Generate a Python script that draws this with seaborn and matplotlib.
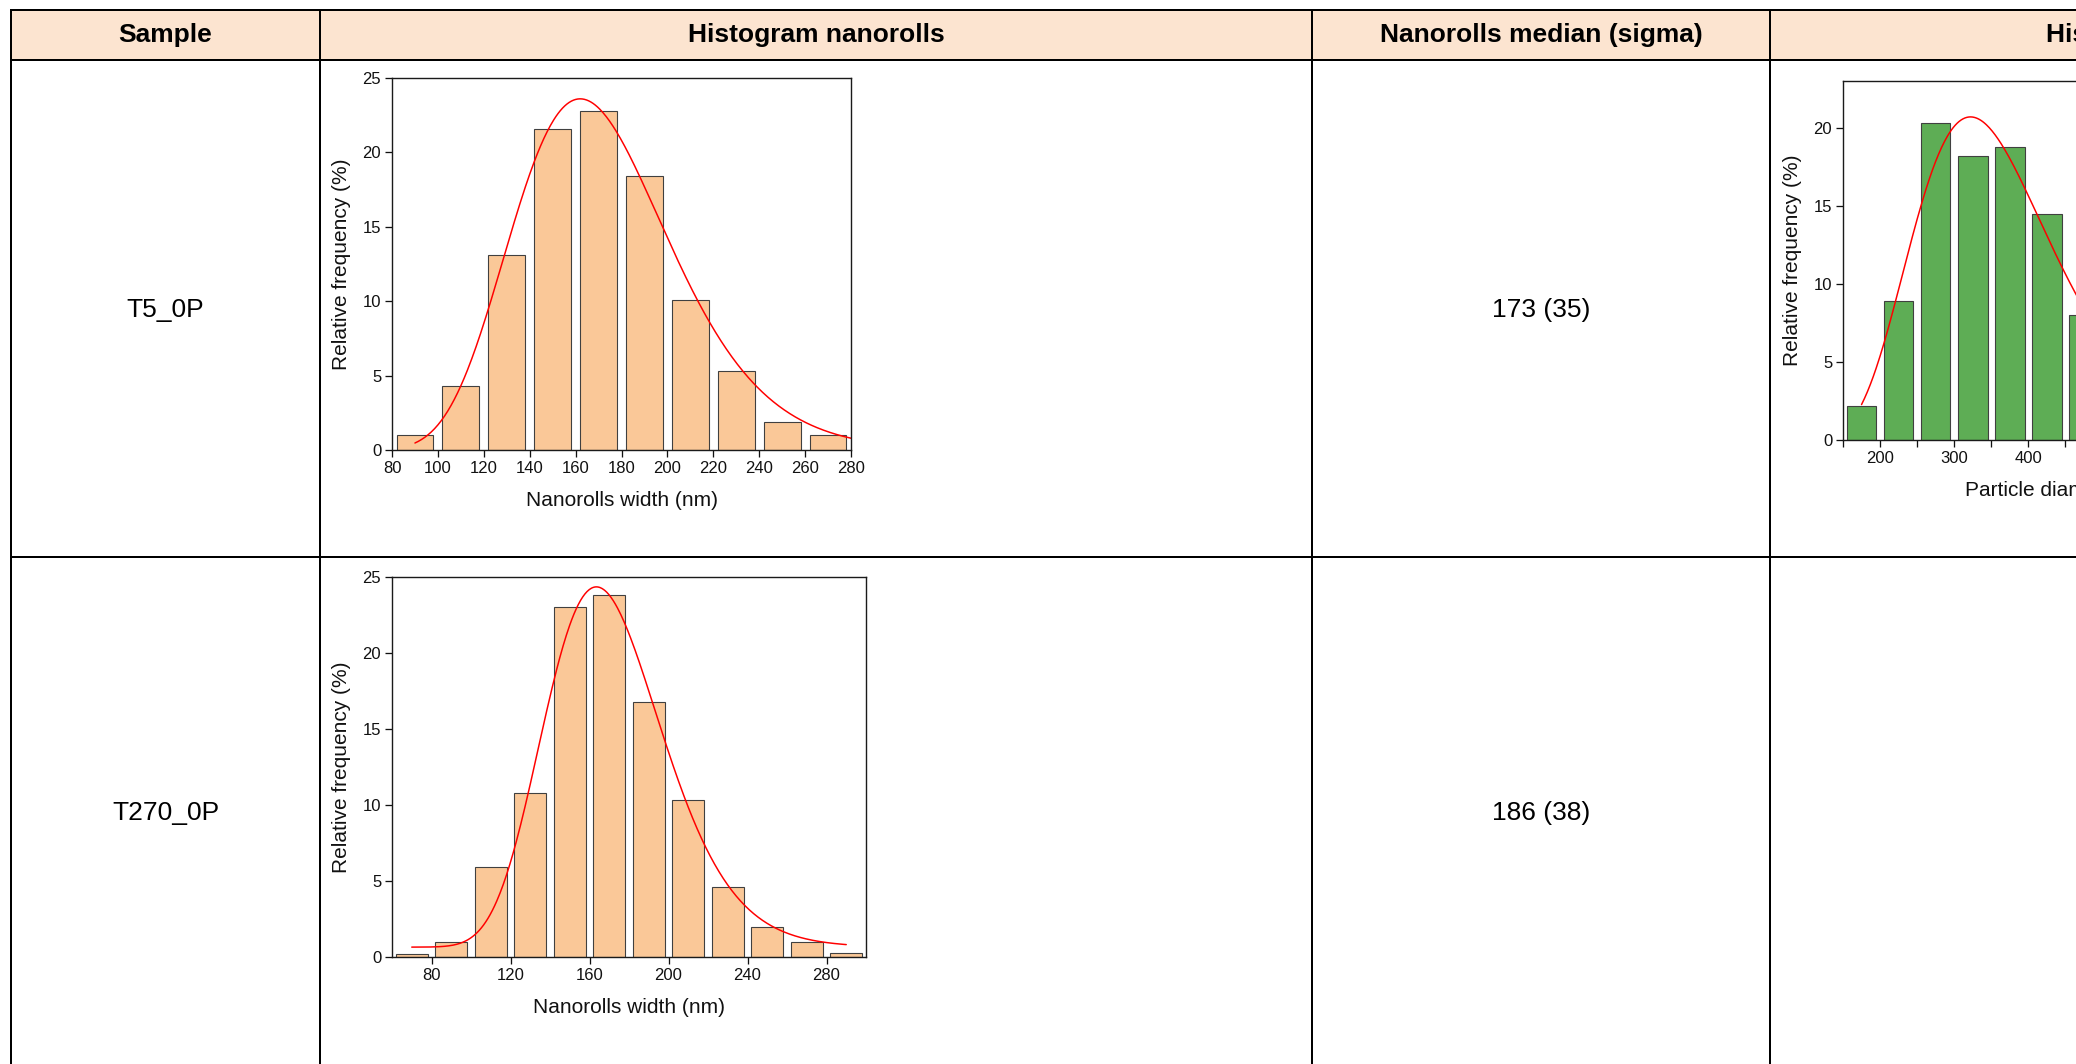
import numpy as np
import pandas as pd
import matplotlib
matplotlib.use("Agg")
import matplotlib.pyplot as plt
from matplotlib.patches import Rectangle
from matplotlib.ticker import MultipleLocator
import seaborn as sns

# ---- table content ----
col_titles = ["Sample", "Histogram nanorolls", "Nanorolls median (sigma)", "Histogram particles"]
samples = ["T5_0P", "T270_0P"]
medians = ["173 (35)", "186 (38)"]

# T5_0P nanoroll width histogram: bin centres (nm) / relative frequency (%)
t5_width_centers = [90, 110, 130, 150, 170, 190, 210, 230, 250, 270]
t5_width_freq = [1.0, 4.3, 13.1, 21.6, 22.8, 18.4, 10.1, 5.3, 1.9, 1.0]
# log-normal fit: mode, log-width, peak height, baseline, x-range
t5_width_fit = [162.0, 0.21, 23.6, 0.0, 90, 280]

# T270_0P nanoroll width histogram
t270_width_centers = [70, 90, 110, 130, 150, 170, 190, 210, 230, 250, 270, 290]
t270_width_freq = [0.22, 1.0, 5.9, 10.8, 23.0, 23.8, 16.8, 10.3, 4.6, 2.0, 1.0, 0.24]
t270_width_fit = [163.5, 0.182, 24.35, 0.65, 70, 290]

# T5_0P particle diameter histogram
t5_part_centers = [175, 225, 275, 325, 375, 425, 475]
t5_part_freq = [2.2, 8.9, 20.3, 18.2, 18.8, 14.5, 8.0]
t5_part_fit = [322.0, 0.29, 20.7, 0.0, 175, 700]

W, H = 2076, 1064
DPI = 100
PX = 72.0 / DPI  # points per pixel

sns.set_theme(style="white")
plt.rcParams["font.family"] = ["Liberation Sans", "DejaVu Sans"]

fig = plt.figure(figsize=(W / DPI, H / DPI), dpi=DPI)
fig.patch.set_facecolor("white")

# ---- table grid drawn in pixel coordinates ----
bg = fig.add_axes([0, 0, 1, 1])
bg.set_xlim(0, W)
bg.set_ylim(H, 0)
bg.axis("off")

x_cols = [11, 320, 1312, 1770]
y_top, y_head, y_row, y_bot = 10, 60, 557, 1069
line_kw = dict(color="black", linewidth=2 * PX, solid_capstyle="projecting")

bg.add_patch(Rectangle((x_cols[0], y_top), W + 50 - x_cols[0], y_head - y_top,
                       facecolor="#FCE4D0", edgecolor="none"))
for y in (y_top, y_head, y_row, y_bot):
    bg.plot([x_cols[0], W + 50], [y, y], **line_kw)
for x in x_cols:
    bg.plot([x, x], [y_top, y_bot], **line_kw)

head_y = 35
bg.text((x_cols[0] + x_cols[1]) / 2, head_y, col_titles[0], ha="center", va="center",
        fontsize=19, fontweight="bold", color="black")
bg.text((x_cols[1] + x_cols[2]) / 2, head_y, col_titles[1], ha="center", va="center",
        fontsize=19, fontweight="bold", color="black")
bg.text((x_cols[2] + x_cols[3]) / 2, head_y, col_titles[2], ha="center", va="center",
        fontsize=19, fontweight="bold", color="black")
bg.text(2046, head_y, col_titles[3], ha="left", va="center",
        fontsize=19, fontweight="bold", color="black")

row_y = [310, 813]
for name, med, y in zip(samples, medians, row_y):
    bg.text((x_cols[0] + x_cols[1]) / 2, y, name, ha="center", va="center",
            fontsize=19, color="black")
    bg.text((x_cols[2] + x_cols[3]) / 2, y, med, ha="center", va="center",
            fontsize=19, color="black")


def add_panel(left, top, right, bottom):
    return fig.add_axes([left / W, 1 - bottom / H, (right - left) / W, (bottom - top) / H])


def lognormal_fit(params, n=400):
    mode, width, peak, base, start, stop = params
    xs = np.linspace(start, stop, n)
    ys = base + (peak - base) * np.exp(-np.log(xs / mode) ** 2 / (2 * width ** 2))
    return pd.DataFrame({"x": xs, "y": ys})


def histogram_panel(ax, centers, freq, fit, color, xlabel, xlim, ylim):
    step = centers[1] - centers[0]
    lo, hi = centers[0] - step / 2, centers[-1] + step / 2
    bars = pd.DataFrame({"size": centers, "freq": freq})
    sns.histplot(data=bars, x="size", weights="freq", binwidth=step, binrange=(lo, hi),
                 shrink=0.8, ax=ax, color=color, alpha=1, edgecolor="#404040",
                 linewidth=1.1 * PX)
    curve = lognormal_fit(fit)
    sns.lineplot(data=curve, x="x", y="y", ax=ax, color="#ff0000",
                 linewidth=1.5 * PX, estimator=None)
    ax.set_xlim(*xlim)
    ax.set_ylim(*ylim)
    ax.set_xlabel(xlabel, fontsize=15, color="#111111", labelpad=11)
    ax.set_ylabel("Relative frequency (%)", fontsize=15, color="#111111", labelpad=8)
    ax.yaxis.set_major_locator(MultipleLocator(5))
    ax.tick_params(axis="both", which="both", direction="out", length=4.8,
                   width=1.3 * PX, color="#111111", labelsize=12, labelcolor="#111111",
                   bottom=True, left=True, pad=3)
    for s in ax.spines.values():
        s.set_visible(True)
        s.set_color("#1a1a1a")
        s.set_linewidth(1.4 * PX)
    ax.set_facecolor("white")


# T5_0P nanoroll widths
ax1 = add_panel(392, 78, 851, 450)
histogram_panel(ax1, t5_width_centers, t5_width_freq, t5_width_fit, "#FAC898",
                "Nanorolls width (nm)", (80, 280), (0, 25))
ax1.xaxis.set_major_locator(MultipleLocator(20))

# T270_0P nanoroll widths
ax2 = add_panel(392, 577, 866, 957)
histogram_panel(ax2, t270_width_centers, t270_width_freq, t270_width_fit, "#FAC898",
                "Nanorolls width (nm)", (60, 300), (0, 25))
ax2.set_xticks([80, 120, 160, 200, 240, 280])

# T5_0P particle diameters
ax3 = add_panel(1843, 81, 2293, 440)
histogram_panel(ax3, t5_part_centers, t5_part_freq, t5_part_fit, "#5EAD55",
                "Particle diameter (nm)", (150, 757), (0, 23))
ax3.xaxis.set_major_locator(MultipleLocator(100))
ax3.xaxis.set_minor_locator(MultipleLocator(50))
ax3.tick_params(axis="x", which="minor", direction="out", length=4.8, width=1.3 * PX,
                color="#111111", bottom=True)

fig.savefig("out.png", dpi=DPI, facecolor="white")
